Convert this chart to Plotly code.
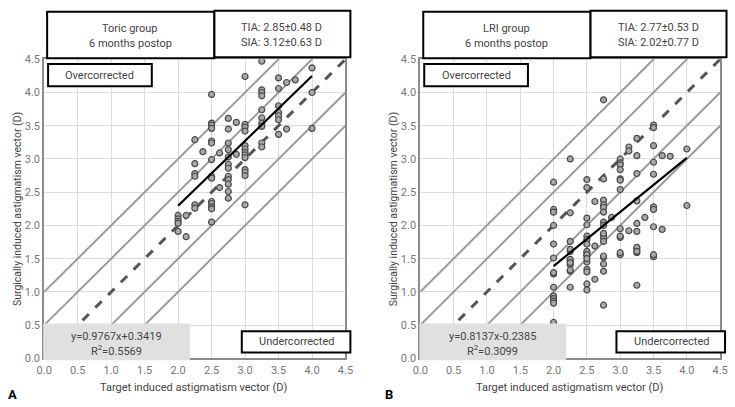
import plotly.graph_objects as go

# ---------------- data ----------------
toric_x = [3.25, 4.0, 3.0, 3.5, 3.62, 3.75, 2.5, 3.5, 3.25, 3.25, 3.25, 3.5, 3.5, 3.5, 3.5,
           3.25, 3.25, 3.25, 3.25, 3.62, 3.5, 4.0, 4.0, 2.75, 2.87, 2.75, 2.5, 2.5, 2.5,
           3.0, 3.0, 3.0, 2.25, 2.5, 2.5, 2.75, 3.25, 3.25, 2.37, 2.62, 2.75, 2.87,
           3.0, 3.0, 3.0, 3.0, 3.0, 2.75, 2.5, 2.25, 2.75, 2.75, 3.0, 3.0, 3.0, 2.25, 2.25,
           2.5, 2.5, 2.75, 2.75, 2.62, 2.75, 2.75, 2.75, 3.0, 2.5, 2.5, 2.5, 2.5, 2.25, 2.25,
           2.12, 2.0, 2.0, 2.0, 2.0, 2.0, 2.5, 2.12]
toric_y = [4.47, 4.37, 4.24, 4.22, 4.15, 4.19, 3.97, 4.06, 4.04, 4.0, 3.95, 3.80, 3.70, 3.65, 3.59,
           3.74, 3.62, 3.54, 3.49, 3.45, 3.37, 4.0, 3.46, 3.61, 3.55, 3.45, 3.54, 3.51, 3.46,
           3.52, 3.48, 3.42, 3.29, 3.27, 3.24, 3.24, 3.24, 3.18, 3.11, 3.09, 3.14, 3.07,
           3.20, 3.15, 3.10, 3.06, 3.02, 3.03, 2.99, 2.93, 2.92, 2.86, 2.84, 2.80, 2.75, 2.78, 2.74,
           2.74, 2.71, 2.74, 2.69, 2.57, 2.62, 2.51, 2.41, 2.31, 2.36, 2.33, 2.28, 2.25, 2.31, 2.26,
           2.15, 2.15, 2.10, 2.06, 2.03, 1.91, 2.05, 1.83]

lri_x = [2.75, 2.25, 2.0, 2.5, 2.5, 2.75, 2.62, 2.75, 2.75, 2.75, 2.75, 2.87, 2.75, 2.75,
         2.75, 2.75, 2.75, 3.0, 3.0, 3.0, 3.0, 3.0, 3.0, 3.0, 3.0, 3.0, 3.0, 3.13, 3.13,
         3.25, 3.25, 3.25, 3.25, 3.25, 3.25, 3.13, 3.25, 3.25, 3.37, 3.5, 3.5, 3.5, 3.5,
         3.5, 3.5, 3.5, 3.5, 3.5, 3.63, 3.63, 3.75, 4.0, 4.0, 2.0, 2.0, 2.0, 2.0, 2.0,
         2.0, 2.25, 2.25, 2.25, 2.25, 2.25, 2.25, 2.5, 2.5, 2.5, 2.5, 2.5, 2.5, 2.5, 2.5,
         2.5, 2.5, 2.5, 2.62, 2.62, 2.75, 2.75, 2.75, 3.25, 2.0, 2.25,
         2.0, 2.0, 2.0, 2.0, 2.0, 2.0, 2.25, 2.25, 2.25, 2.25, 2.5, 2.5, 2.5, 2.5, 2.75, 2.75,
         2.75, 3.0, 3.0, 3.25, 3.25, 3.5]
lri_y = [3.89, 3.0, 2.65, 2.69, 2.57, 2.70, 2.36, 2.38, 2.31, 2.27, 2.20, 2.12, 2.05, 2.0,
         1.85, 1.82, 1.76, 3.0, 2.94, 2.91, 2.84, 2.70, 2.68, 2.54, 1.95, 1.82, 1.56, 3.18, 3.12,
         3.31, 3.05, 2.78, 2.37, 2.03, 1.91, 1.92, 1.65, 1.59, 2.12, 3.51, 3.47, 3.20, 2.95,
         2.77, 2.28, 2.24, 1.98, 1.53, 3.05, 1.94, 3.04, 3.15, 2.30, 2.24, 2.20, 2.0, 1.72, 1.51,
         1.27, 2.19, 1.76, 1.61, 1.47, 1.41, 1.31, 2.11, 2.01, 1.84, 1.79, 1.72, 1.59, 1.55, 1.45,
         1.34, 1.30, 1.12, 1.69, 1.19, 1.52, 1.42, 1.31, 1.10, 1.07, 1.07,
         1.29, 0.94, 0.90, 0.86, 0.83, 0.54, 1.64, 1.49, 1.44, 1.33, 1.61, 1.56, 1.50, 1.03, 1.88,
         1.54, 0.80, 1.84, 1.59, 1.67, 1.61, 1.56]

toric_fit = (0.9767, 0.3419)
lri_fit = (0.8137, -0.2385)
fit_x = [2.0, 4.0]
offsets = [-1.0, -0.5, 0.0, 0.5, 1.0]
ref_x = [0.0, 4.5]
ticks = [0.0, 0.5, 1.0, 1.5, 2.0, 2.5, 3.0, 3.5, 4.0, 4.5]
tick_text = ["0.0", "0.5", "1.0", "1.5", "2.0", "2.5", "3.0", "3.5", "4.0", "4.5"]

panels = [
    dict(name="Toric group", x=toric_x, y=toric_y, fit=toric_fit,
         tia="TIA: 2.85±0.48 D", sia="SIA: 3.12±0.63 D",
         eq="y=0.9767x+0.3419", r2="R<sup>2</sup>=0.5569", letter="A"),
    dict(name="LRI group", x=lri_x, y=lri_y, fit=lri_fit,
         tia="TIA: 2.77±0.53 D", sia="SIA: 2.02±0.77 D",
         eq="y=0.8137x-0.2385", r2="R<sup>2</sup>=0.3099", letter="B"),
]

W, H = 735, 407
FONT = "Roboto, Arial, sans-serif"


def px(x):
    return x / W


def py(y):
    return 1 - y / H


fig = go.Figure()

geo = [dict(l=37, r=345, ax="x", ay="y"),
       dict(l=421.5, r=728, ax="x2", ay="y2")]
top, bot = 55, 364

shapes = []
annos = []


def box(x0, y0, x1, y1, fill="white", lw=2, color="black"):
    shapes.append(dict(type="rect", xref="paper", yref="paper",
                       x0=px(x0), x1=px(x1), y0=py(y1), y1=py(y0),
                       fillcolor=fill, line=dict(color=color, width=lw), layer="above"))


def text(x, y, t, size=11, color="#444444", angle=0, anchor="center"):
    annos.append(dict(xref="paper", yref="paper", x=px(x), y=py(y), text=t,
                      showarrow=False, textangle=angle, xanchor=anchor, yanchor="middle",
                      font=dict(family=FONT, size=size, color=color)))


for p, g in zip(panels, geo):
    for c in offsets:
        fig.add_trace(go.Scatter(
            x=ref_x, y=[v + c for v in ref_x], mode="lines", xaxis=g["ax"], yaxis=g["ay"],
            line=dict(color="#555555" if c == 0 else "#9a9a9a",
                      width=3 if c == 0 else 2, dash="dash" if c == 0 else "solid"),
            showlegend=False, hoverinfo="skip"))
    fig.add_trace(go.Scatter(
        x=p["x"], y=p["y"], mode="markers", xaxis=g["ax"], yaxis=g["ay"],
        marker=dict(size=6, color="#a8a8a8", line=dict(color="#4a4a4a", width=1.2)),
        showlegend=False))
    a, b = p["fit"]
    fig.add_trace(go.Scatter(
        x=fit_x, y=[a * v + b for v in fit_x], mode="lines", xaxis=g["ax"], yaxis=g["ay"],
        line=dict(color="black", width=2.2), showlegend=False))

    l, r = g["l"], g["r"]
    box(l + 3, 6, l + 174, 54)
    box(l + 174, 5, l + 313, 53)
    text(l + 88, 23, p["name"])
    text(l + 88, 39, "6 months postop")
    text(l + 243, 22, p["tia"])
    text(l + 243, 38, p["sia"])
    box(l + 4, 60, l + 110, 83)
    text(l + 57, 72, "Overcorrected")
    box(r - 106, 336, r + 5, 358)
    text(r - 50, 347, "Undercorrected")
    box(l - 1, 328, l + 149, 366, fill="#e0e0e0", lw=0, color="rgba(0,0,0,0)")
    text(l + 74, 341, p["eq"])
    text(l + 74, 356, p["r2"])
    text(l + 153, 394, "Target induced astigmatism vector (D)", size=11)
    text(l - 28, 210, "Surgically induced astigmatism vector (D)", size=10.5, angle=-90)
    text(l - 32, 401, "<b>" + p["letter"] + "</b>", size=13, color="black")

axis_common = dict(range=[0, 4.5], tickvals=ticks, ticktext=tick_text, showgrid=True,
                   gridcolor="#dcdcdc", gridwidth=1, zeroline=False, showline=True,
                   linecolor="#8c8c8c", linewidth=2, mirror=True, ticks="",
                   tickfont=dict(family=FONT, size=11, color="#777777"), fixedrange=True)

ydom = [py(bot), py(top)]
fig.update_layout(
    width=W, height=H, margin=dict(l=0, r=0, t=0, b=0),
    plot_bgcolor="white", paper_bgcolor="white",
    xaxis=dict(domain=[px(geo[0]["l"]), px(geo[0]["r"])], anchor="y", **axis_common),
    yaxis=dict(domain=ydom, anchor="x", **axis_common),
    xaxis2=dict(domain=[px(geo[1]["l"]), px(geo[1]["r"])], anchor="y2", **axis_common),
    yaxis2=dict(domain=ydom, anchor="x2", **axis_common),
    shapes=shapes, annotations=annos,
)

fig.write_html("out.html")
